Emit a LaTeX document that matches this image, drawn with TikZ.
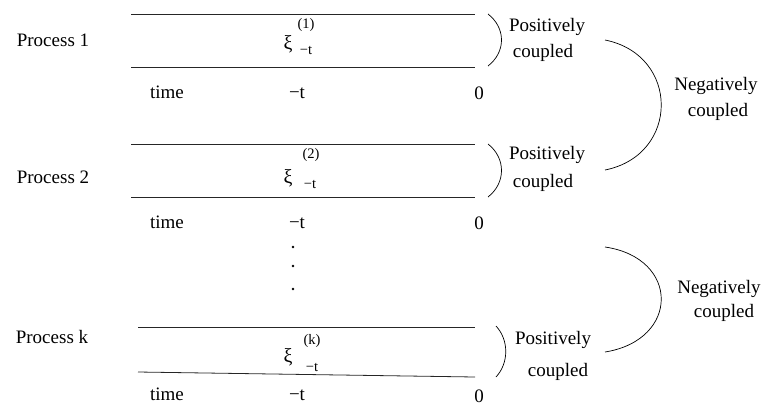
\documentclass[tikz,border=0pt]{standalone}
\usepackage{fontspec}
\setmainfont{Liberation Serif}
\usetikzlibrary{positioning}

\begin{document}
\begin{tikzpicture}[x=1pt, y=-1pt,
    lbl/.style={font=\fontsize{19}{23}\selectfont, inner sep=0pt},
    idx/.style={font=\fontsize{14.5}{17}\selectfont, inner sep=0pt},
    rule/.style={line width=0.8pt, black!85},
    brace/.style={line width=0.7pt}
  ]
    \useasboundingbox (0,0) rectangle (762,405);

    % process 1
    \node[lbl] (proc1) at (53,40) {Process 1};
    \coordinate (a1) at (131,14);  \coordinate (b1) at (475,14);
    \coordinate (c1) at (131,67);  \coordinate (d1) at (475,67);
    \draw[rule] (a1) -- (b1);
    \draw[rule] (c1) -- (d1);
    \node[lbl, font=\fontsize{20}{24}\selectfont] (xi1) at (288,44) {ξ};
    \node[idx] (sup1) at (306,25) {(1)};
    \node[idx] (sub1) at (306,50) {−t};
    \node[lbl] (time1) at (167,92) {time};
    \node[lbl] (mt1) at (297,93) {−t};
    \node[lbl] (zero1) at (479,93) {0};

    % process 2
    \node[lbl] (proc2) at (53,177) {Process 2};
    \coordinate (a2) at (131,144); \coordinate (b2) at (475,144);
    \coordinate (c2) at (131,197); \coordinate (d2) at (475,197);
    \draw[rule] (a2) -- (b2);
    \draw[rule] (c2) -- (d2);
    \node[lbl, font=\fontsize{20}{24}\selectfont] (xi2) at (288,178) {ξ};
    \node[idx] (sup2) at (311,155) {(2)};
    \node[idx] (sub2) at (310,184) {−t};
    \node[lbl] (time2) at (167,222) {time};
    \node[lbl] (mt2) at (297,223) {−t};
    \node[lbl] (zero2) at (479,223) {0};

    % dots
    \fill (293,247) circle (1.3);
    \fill (293,266) circle (1.3);
    \fill (293,289) circle (1.3);

    % process k
    \node[lbl] (prock) at (52,337) {Process k};
    \coordinate (ak) at (138,327); \coordinate (bk) at (475,327);
    \coordinate (ck) at (138,372); \coordinate (dk) at (475,377);
    \draw[rule] (ak) -- (bk);
    \draw[rule] (ck) -- (dk);
    \node[lbl, font=\fontsize{20}{24}\selectfont] (xik) at (288,357) {ξ};
    \node[idx] (supk) at (312,341) {(k)};
    \node[idx] (subk) at (312,367) {−t};
    \node[lbl] (timek) at (167,394) {time};
    \node[lbl] (mtk) at (297,395) {−t};
    \node[lbl] (zerok) at (479,396) {0};

    % positive couplings
    \coordinate (pt1) at (488,14);  \coordinate (pb1) at (488,66);
    \draw[brace] (pt1) .. controls (506,28) and (506,52) .. (pb1);
    \node[lbl] (pos1) at (547,27) {Positively};
    \node[lbl] (cpl1) at (543,53) {coupled};

    \coordinate (pt2) at (488,144); \coordinate (pb2) at (488,197);
    \draw[brace] (pt2) .. controls (506,158) and (506,183) .. (pb2);
    \node[lbl] (pos2) at (547,155) {Positively};
    \node[lbl] (cpl2) at (543,183) {coupled};

    \coordinate (ptk) at (496,326); \coordinate (pbk) at (496,377);
    \draw[brace] (ptk) .. controls (509,340) and (509,363) .. (pbk);
    \node[lbl] (posk) at (553,340) {Positively};
    \node[lbl] (cplk) at (558,372) {coupled};

    % negative couplings
    \coordinate (nt1) at (605,40);  \coordinate (nb1) at (605,170);
    \draw[brace] (nt1) .. controls (680,55) and (680,155) .. (nb1);
    \node[lbl] (neg1) at (716,86) {Negatively};
    \node[lbl] (ncpl1) at (718,112) {coupled};

    \coordinate (nt2) at (605,247); \coordinate (nb2) at (605,352);
    \draw[brace] (nt2) .. controls (680,258) and (680,340) .. (nb2);
    \node[lbl] (neg2) at (719,289) {Negatively};
    \node[lbl] (ncpl2) at (724,313) {coupled};
  \end{tikzpicture}
\end{document}
